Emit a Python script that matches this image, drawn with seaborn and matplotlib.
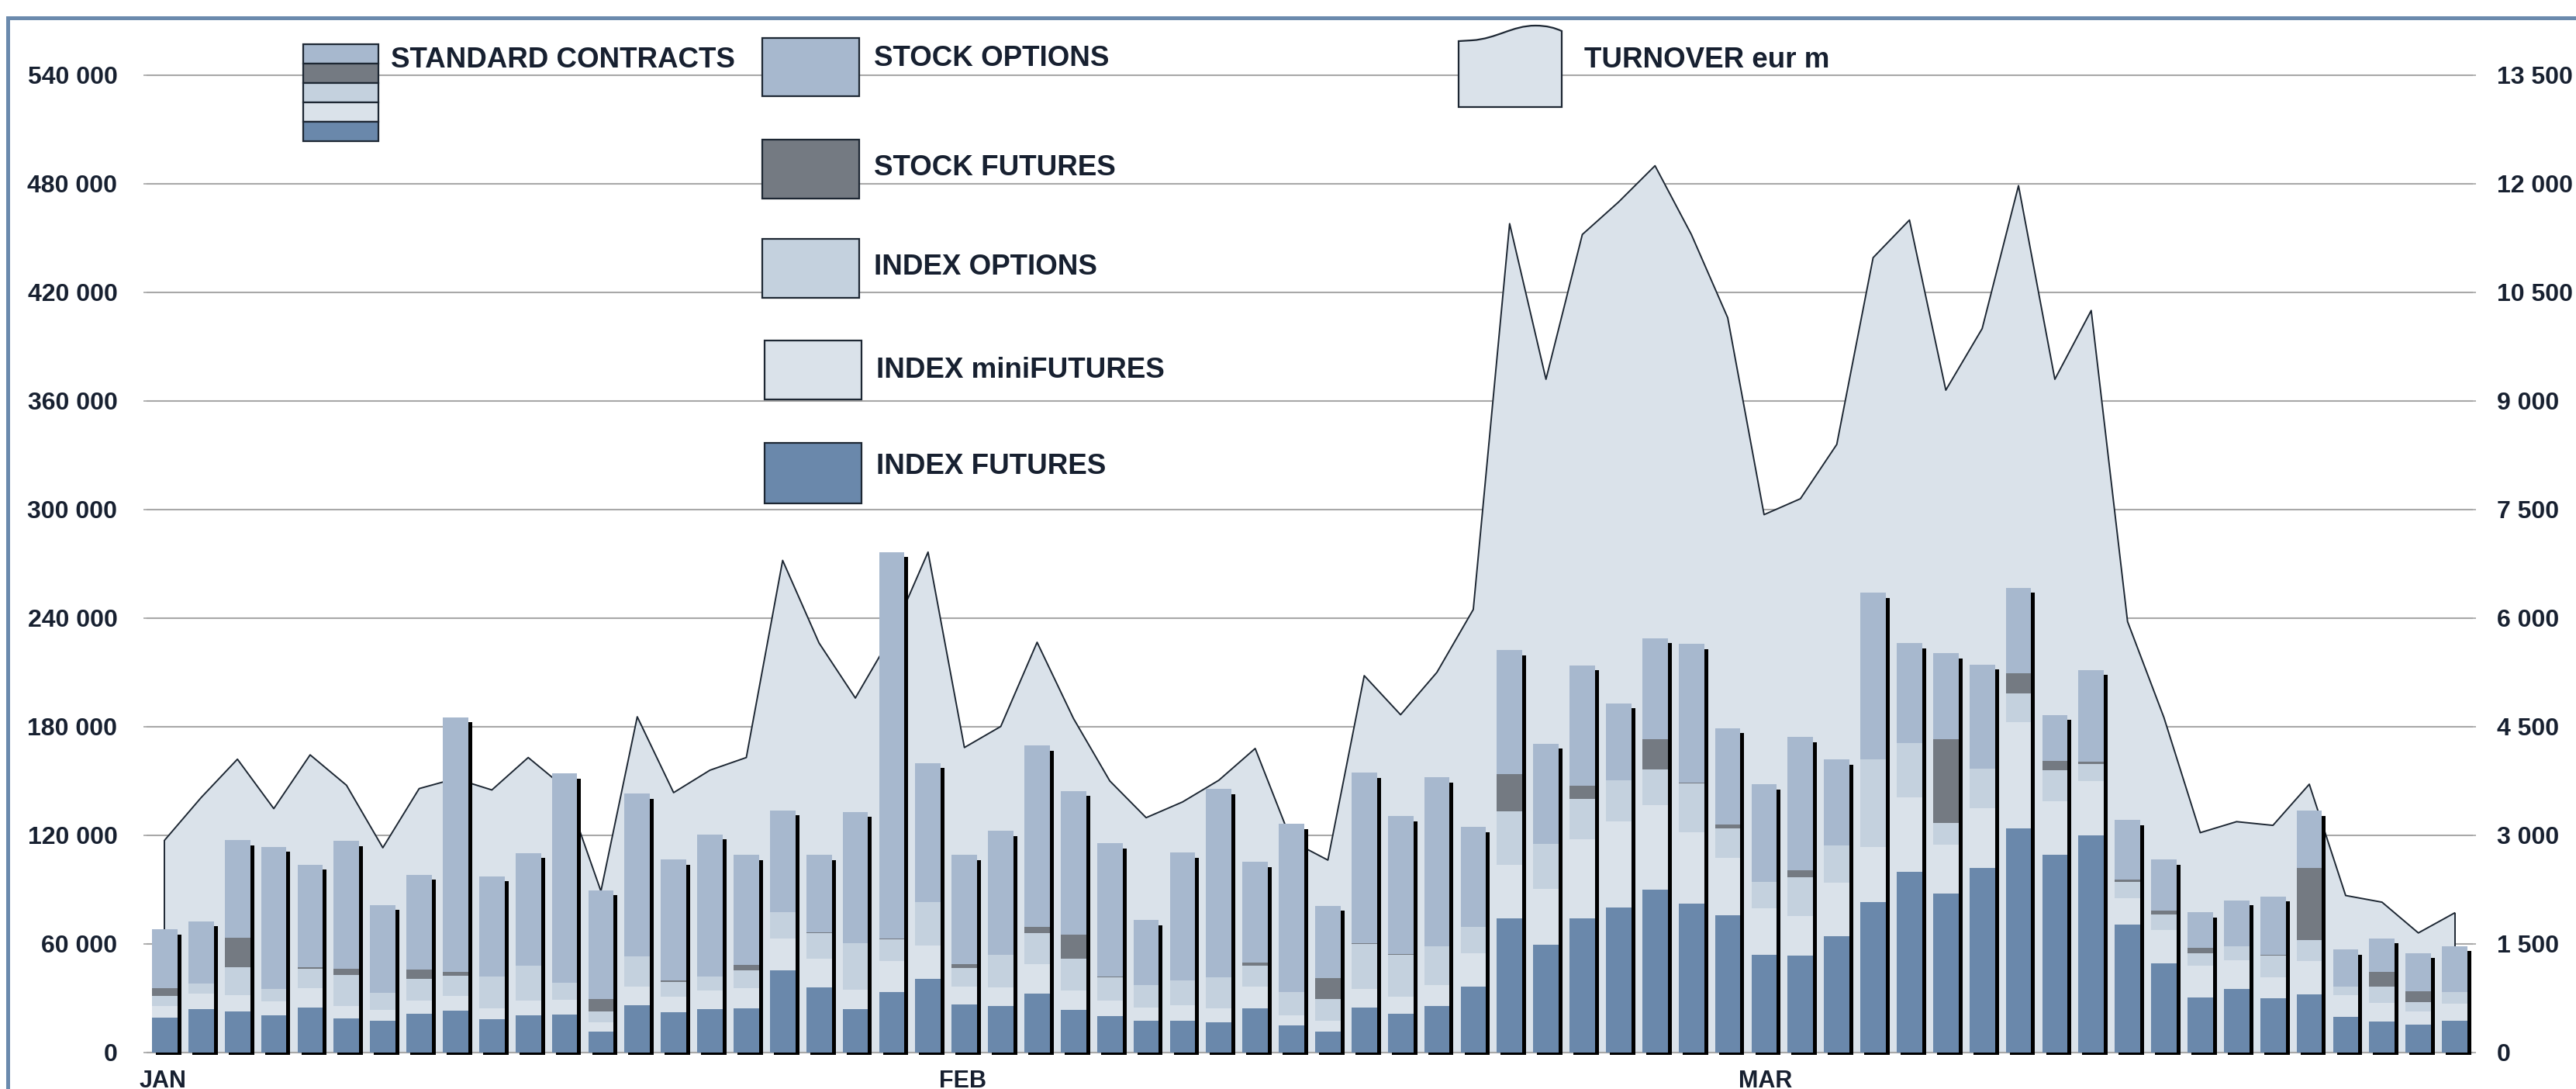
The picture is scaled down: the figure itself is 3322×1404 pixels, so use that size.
import numpy as np
import pandas as pd
import seaborn as sns
import matplotlib.pyplot as plt
from matplotlib.patches import Rectangle, PathPatch
from matplotlib.path import Path
from matplotlib import transforms

# daily volumes, contracts (Jan: 22 days, Feb: 22 days, Mar: 20 days)
index_futures = [19400, 24200, 22700, 20500, 24900, 19000, 17500, 21400, 23100, 18500, 20500,
                 20900, 11600, 26000, 22200, 24000, 24600, 45400, 36000, 24000, 33600, 40600,
                 26400, 25500, 32500, 23600, 20300, 17500, 17500, 16800, 24600, 14800, 11600,
                 24900, 21400, 25500, 36600, 74000, 59600, 74000, 80300, 90100, 82200, 75900,
                 54100, 53700, 64200, 83300, 99900, 87900, 102100, 123900, 109100, 120200, 70700,
                 49100, 30600, 35100, 29900, 32300, 19900, 17200, 15300, 17700]
index_minifutures = [6500, 8300, 9200, 7800, 10700, 6500, 6100, 7200, 8300, 5900, 8100,
                     8300, 5000, 10500, 8500, 10200, 10900, 17500, 15700, 10700, 16800, 18500,
                     10200, 10700, 16400, 10700, 8300, 7400, 8500, 7800, 12000, 5700, 6100,
                     10300, 9400, 11600, 18100, 29900, 30800, 43800, 47600, 46700, 39300, 31800,
                     25800, 21600, 29500, 30300, 41000, 27100, 32900, 58500, 29900, 29900, 14400,
                     18800, 17500, 15700, 11600, 18100, 12000, 10200, 7400, 9100]
index_options = [5200, 5500, 15300, 7000, 10700, 17500, 9200, 12000, 11100, 17700, 19600,
                 9200, 6100, 16600, 8100, 7900, 10000, 14800, 14400, 25700, 12000, 24200,
                 10200, 17900, 17200, 17500, 12900, 12200, 13700, 17000, 11600, 12900, 12000,
                 24900, 23100, 21600, 14800, 29500, 24900, 22200, 22700, 19800, 27300, 16200,
                 14400, 21600, 20900, 48600, 29900, 12000, 22000, 16200, 17000, 9200, 9200,
                 8300, 6800, 7900, 12000, 11600, 4600, 9200, 5000, 6500]
stock_futures = [4600, 0, 16100, 0, 800, 3100, 400, 5200, 2000, 0, 0,
                 0, 6800, 0, 1100, 0, 3000, 0, 400, 0, 700, 0,
                 2200, 0, 3300, 13300, 600, 0, 0, 0, 1300, 0, 11400,
                 300, 600, 0, 0, 20500, 0, 7400, 0, 16600, 300, 1900,
                 0, 3900, 0, 0, 0, 46200, 0, 11100, 5200, 1300, 1300,
                 2400, 2800, 0, 300, 40100, 0, 7800, 6100, 0]
stock_options = [32300, 34500, 54100, 78300, 56700, 70900, 48400, 52400, 140700, 55200, 62000,
                 115700, 60200, 89900, 66600, 78500, 60700, 56100, 42600, 72600, 213400, 76600,
                 60200, 68300, 100100, 79400, 73500, 36000, 70700, 103900, 55800, 93000, 40100,
                 94200, 76100, 93400, 55200, 68500, 55400, 66500, 42300, 55800, 76600, 53500,
                 53900, 73500, 47400, 91800, 55400, 47400, 57400, 47100, 25300, 50800, 32900,
                 28100, 19800, 25500, 32500, 31400, 20300, 18700, 21200, 25500]
# turnover, eur m
turnover = [2935, 3521, 4052, 3369, 4112, 3692, 2829, 3646, 3784, 3627, 4075,
            3660, 2229, 4638, 3590, 3900, 4075, 6798, 5658, 4897, 5760, 6913,
            4213, 4504, 5667, 4615, 3752, 3244, 3461, 3761, 4200, 2921, 2658,
            5206, 4666, 5252, 6120, 11450, 9300, 11300, 11750, 12250, 11300, 10150,
            7430, 7650, 8400, 10980, 11500, 9150, 10000, 11975, 9300, 10250, 5953,
            4629, 3037, 3189, 3138, 3706, 2169, 2077, 1652, 1929]

months = ["JAN", "FEB", "MAR"]
days_in_month = [22, 22, 20]

series_names = ["INDEX FUTURES", "INDEX miniFUTURES", "INDEX OPTIONS", "STOCK FUTURES", "STOCK OPTIONS"]
series_colors = ["#6a88ab", "#dae2ea", "#c4d1de", "#747a82", "#a7b8ce"]

df = pd.DataFrame({
    "INDEX FUTURES": index_futures,
    "INDEX miniFUTURES": index_minifutures,
    "INDEX OPTIONS": index_options,
    "STOCK FUTURES": stock_futures,
    "STOCK OPTIONS": stock_options,
    "turnover": turnover,
})
df["day"] = np.arange(len(df))
df["total"] = df[series_names].sum(axis=1)

# styling
TXT = "#172030"
GRID = "#a8a8a8"
AREA = "#dae2ea"
EDGE = "#1d2733"
FRAME = "#6b8aad"
RATIO = 40  # contracts per eur m on the twin axis
YMIN, YMAX = -1300, 546000

sns.set_theme(style="white")
plt.rcParams["font.family"] = ["Liberation Sans", "DejaVu Sans"]
plt.rcParams["font.weight"] = "bold"

W, H = 3323, 1404
fig = plt.figure(figsize=(W / 100, H / 100), dpi=100)
fig.patch.set_facecolor("white")


def fx(px):
    return px / W


def fy(py):
    return 1 - py / H


ax = fig.add_axes([fx(189), fy(1360), 3000 / W, (1360 - 83) / H])
ax2 = ax.twinx()
ax.set_zorder(2)
ax2.set_zorder(1)
ax.patch.set_visible(False)
ax2.patch.set_visible(True)
ax2.patch.set_facecolor("white")

# ------------------------------
# turnover area (back axis) with grid underneath
ax2.set_ylim(YMIN / RATIO, YMAX / RATIO)
ax2.set_yticks(np.arange(0, 13501, 1500))
ax2.set_yticklabels([f"{v:,}".replace(",", " ") for v in range(0, 13501, 1500)])
ax2.yaxis.grid(True, color=GRID, lw=1.5)
ax2.set_axisbelow(True)
ax2.fill_between(df["day"], 0, df["turnover"], color=AREA, lw=0, zorder=2)
sns.lineplot(data=df, x="day", y="turnover", ax=ax2, color=EDGE, lw=1.4, estimator=None, zorder=3)
ax2.vlines([df["day"].iloc[0], df["day"].iloc[-1]], 0,
           [df["turnover"].iloc[0], df["turnover"].iloc[-1]], color=EDGE, lw=1.4, zorder=3)
ax2.set_ylabel("")
ax2.tick_params(axis="y", length=3, color=GRID, pad=19, labelsize=23, labelcolor=TXT)
for lab in ax2.get_yticklabels():
    lab.set_fontweight("bold")

# ------------------------------
# stacked volumes with drop shadow (front axis)
ax.set_xlim(-0.5, len(df) - 0.5)
ax.set_ylim(YMIN, YMAX)
ax.axhline(0, color=GRID, lw=1.5, zorder=1)
ax.bar(df["day"] + 0.107, df["total"] - 2800 + 6000, bottom=-6000, width=0.7,
       color="black", lw=0, zorder=2)
bottom = np.zeros(len(df))
for name, col in zip(series_names, series_colors):
    ax.bar(df["day"], df[name], bottom=bottom, width=0.7, color=col, lw=0, zorder=3)
    bottom += df[name].values

ax.set_yticks(np.arange(0, 540001, 60000))
ax.set_yticklabels([f"{v:,}".replace(",", " ") for v in range(0, 540001, 60000)])
ax.tick_params(axis="y", length=3, color=GRID, pad=24, labelsize=23, labelcolor=TXT)
for lab in ax.get_yticklabels():
    lab.set_fontweight("bold")

month_starts = np.cumsum([0] + days_in_month[:-1]) - 0.5
ax.set_xticks(month_starts)
ax.set_xticklabels([""] * len(months))
ax.tick_params(axis="x", length=7, color=GRID, width=1)
trans = transforms.blended_transform_factory(ax.transData, ax.transAxes)
for x0, m in zip(month_starts, months):
    ax.text(x0, 0, m, transform=trans + transforms.ScaledTranslation(-9 / 100, -42 / 100, fig.dpi_scale_trans),
            ha="left", va="baseline", fontsize=22, color=TXT, fontweight="bold")
ax.set_xlabel("")
ax.set_ylabel("")
for a in (ax, ax2):
    for s in a.spines.values():
        s.set_visible(False)

# ------------------------------
# legend drawn in figure pixels
def box(x0, y0, x1, y1, color):
    fig.add_artist(Rectangle((fx(x0), fy(y1)), (x1 - x0) / W, (y1 - y0) / H,
                             transform=fig.transFigure, facecolor=color,
                             edgecolor=EDGE, lw=1.6, zorder=5))


def label(x, y, s):
    fig.text(fx(x), fy(y), s, ha="left", va="baseline", fontsize=26.5,
             color=TXT, fontweight="bold", zorder=6)


# standard contracts: all five colours stacked
for k, col in enumerate(series_colors[::-1]):
    box(391, 57 + 25 * k, 488, 57 + 25 * (k + 1), col)
label(504, 87, "STANDARD CONTRACTS")

legend_rows = [("STOCK OPTIONS", 983, 49, 124, 85),
               ("STOCK FUTURES", 983, 180, 256, 226),
               ("INDEX OPTIONS", 983, 308, 384, 354),
               ("INDEX miniFUTURES", 986, 439, 515, 487),
               ("INDEX FUTURES", 986, 571, 649, 611)]
color_of = dict(zip(series_names, series_colors))
for name, x0, y0, y1, base in legend_rows:
    box(x0, y0, x0 + 125, y1, color_of[name])
    label(x0 + 144, base, name)

# turnover glyph: box with a wavy top
verts = [(1881, 138), (1881, 53), (1898, 52),
         (1930, 50), (1950, 33), (1980, 33),
         (1995, 33), (2005, 36), (2014, 40),
         (2014, 138), (1881, 138)]
codes = [Path.MOVETO, Path.LINETO, Path.LINETO,
         Path.CURVE4, Path.CURVE4, Path.CURVE4,
         Path.CURVE4, Path.CURVE4, Path.CURVE4,
         Path.LINETO, Path.CLOSEPOLY]
path = Path([(fx(a), fy(b)) for a, b in verts], codes)
fig.add_artist(PathPatch(path, transform=fig.transFigure, facecolor=AREA,
                         edgecolor=EDGE, lw=1.6, zorder=5))
label(2043, 87, "TURNOVER eur m")

# outer frame (top and left edges visible)
fig.add_artist(Rectangle((fx(10.5), -0.2), 1.3, fy(22.5) + 0.2, transform=fig.transFigure,
                         fill=False, edgecolor=FRAME, lw=3.6, zorder=7))

fig.savefig("out.png", dpi=100, facecolor="white")
